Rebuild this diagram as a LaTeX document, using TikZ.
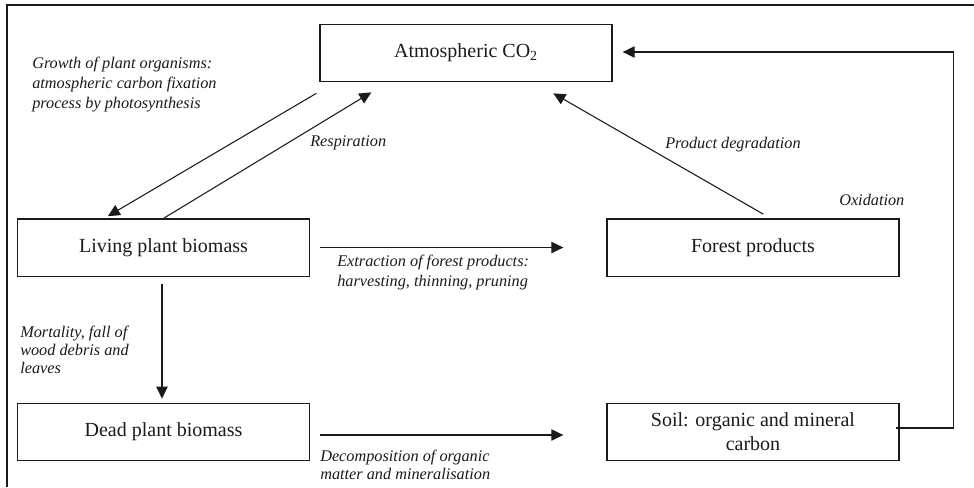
\documentclass[tikz,border=0pt]{standalone}
\usepackage{fontspec}
\setmainfont{Liberation Serif}
\usetikzlibrary{arrows.meta,calc}
\definecolor{ink}{HTML}{1A1A1A}
\begin{document}
\begin{tikzpicture}[x=0.75pt,y=-0.75pt,
  box/.style={draw=ink, line width=1pt, minimum width=219pt, minimum height=43pt, inner sep=0pt,
    font=\fontsize{15}{18}\selectfont, align=center, text=ink},
  lbl/.style={inner sep=0pt, anchor=north west, align=left, text=ink,
    font=\fontsize{12.2}{13.5}\selectfont\itshape},
  arr/.style={draw=ink, line width=0.8pt, -{Triangle[length=9pt,width=8.5pt]}},
  frame/.style={draw=ink, line width=1.7pt}]
\useasboundingbox (0,0) rectangle (974,487);
\draw[frame] (7,487) -- (7,5) -- (974,5);

\node[box] (atm) at (466,53) {Atmospheric CO\textsubscript{2}};
\node[box] (living) at (163.5,247.5) {Living plant biomass};
\node[box] (forest) at (753,247.5) {Forest products};
\node[box] (dead) at (163.5,432) {Dead plant biomass};
\node[box] (soil) at (753,432) {Soil: organic and mineral\\carbon};

\draw[arr] ([shift={(-3,11)}]atm.south west) -- ([shift={(91,-2)}]living.north west);
\draw[arr] ([shift={(147,0)}]living.north west) -- ([shift={(52,10)}]atm.south west);
\draw[arr] ([shift={(157,-4)}]forest.north west) -- ([shift={(234,11)}]atm.south west);
\draw[arr] ([shift={(10,0)}]living.east) -- ([shift={(-43,0)}]forest.west);
\draw[arr] ([shift={(10,3)}]dead.east) -- ([shift={(-43,3)}]soil.west);
\draw[arr] ([shift={(-1.5,7)}]living.south) -- ([shift={(-1.5,-4)}]dead.north);
\draw[arr] ([shift={(-4,-4)}]soil.east) -- ++(58,0) |- ([shift={(10,-1)}]atm.east);

\node[lbl, font=\fontsize{12.2}{15}\selectfont\itshape] (lgrowth) at (32,57) {Growth of plant organisms:\\atmospheric carbon fixation\\process by photosynthesis};
\node[lbl] (lresp) at (310,135) {Respiration};
\node[lbl] (lprod) at (665,137) {Product degradation};
\node[lbl] (loxid) at (839,194) {Oxidation};
\node[lbl, font=\fontsize{12.2}{14.5}\selectfont\itshape] (lextr) at (337,255) {Extraction of forest products:\\harvesting, thinning, pruning};
\node[lbl] (lmort) at (20,326) {Mortality, fall of\\wood debris and\\leaves};
\node[lbl] (ldec) at (320,450) {Decomposition of organic\\matter and mineralisation};
\end{tikzpicture}
\end{document}
